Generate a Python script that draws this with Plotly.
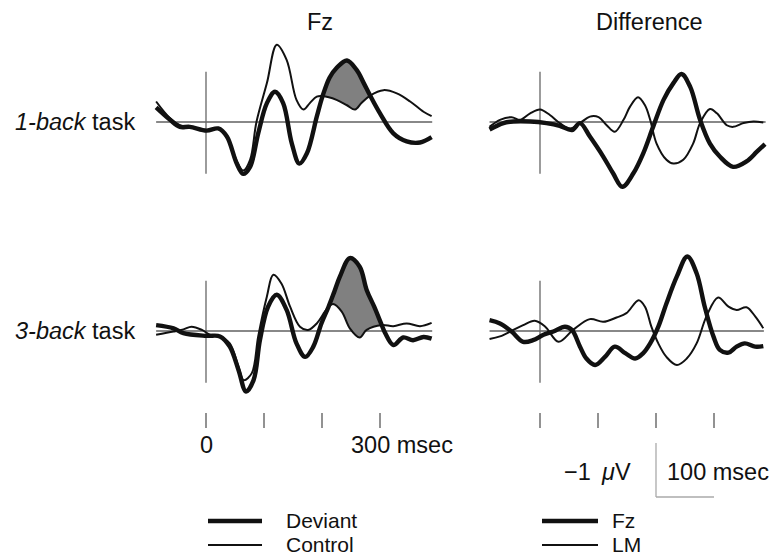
import plotly.graph_objects as go

W, H = 779, 559

# ---------------- data (time in ms, amplitude in µV; negative plotted up) ----------------
tl_dev_t = [-86, -62, -45, -28, 1, 21, 36, 53, 64, 76, 90, 105, 119, 133, 148, 161, 174, 191, 201, 213, 225, 243, 260, 272, 283, 300, 323, 346, 369, 389]
tl_dev_v = [-0.27, -0.04, 0.09, 0.09, 0.16, 0.12, 0.27, 0.77, 0.96, 0.83, 0.21, -0.35, -0.56, -0.35, 0.40, 0.77, 0.58, -0.10, -0.48, -0.82, -1.00, -1.14, -0.96, -0.72, -0.49, -0.16, 0.21, 0.36, 0.38, 0.28]
tl_con_t = [-86, -62, -45, -28, 1, 21, 36, 53, 64, 76, 87, 105, 122, 139, 156, 168, 179, 191, 201, 225, 243, 257, 268, 283, 306, 329, 352, 375, 389]
tl_con_v = [-0.38, -0.07, 0.06, 0.10, 0.15, 0.12, 0.28, 0.72, 0.90, 0.70, 0.0, -0.72, -1.43, -1.15, -0.41, -0.23, -0.35, -0.47, -0.48, -0.41, -0.31, -0.23, -0.35, -0.49, -0.59, -0.53, -0.38, -0.19, -0.11]

tr_fz_t = [-87, -63, -46, -17, 11, 34, 55, 69, 86, 109, 126, 142, 161, 178, 195, 213, 230, 244, 259, 276, 293, 310, 333, 356, 374, 388]
tr_fz_v = [0.14, 0.02, -0.01, -0.01, 0.02, 0.07, 0.15, 0.02, 0.27, 0.64, 0.95, 1.20, 0.95, 0.58, 0.09, -0.41, -0.72, -0.89, -0.65, -0.04, 0.40, 0.64, 0.83, 0.73, 0.55, 0.41]
tr_lm_t = [-87, -69, -49, -34, -17, 0, 17, 34, 52, 69, 86, 101, 115, 129, 144, 155, 169, 181, 190, 201, 218, 230, 247, 264, 276, 293, 305, 322, 333, 351, 368, 385]
tr_lm_v = [0.09, -0.04, -0.09, -0.04, -0.16, -0.23, -0.13, 0.02, 0.12, 0.02, -0.10, -0.09, 0.06, 0.18, -0.04, -0.28, -0.46, -0.31, -0.04, 0.40, 0.70, 0.77, 0.70, 0.40, 0.02, -0.24, -0.16, 0.06, 0.09, 0.02, -0.01, 0.01]

bl_dev_t = [-86, -56, -39, 1, 24, 41, 56, 69, 82, 93, 107, 122, 139, 156, 171, 185, 199, 211, 221, 231, 248, 265, 277, 290, 303, 309, 323, 340, 357, 375, 389]
bl_dev_v = [-0.11, -0.05, 0.04, 0.09, 0.10, 0.29, 0.72, 1.12, 0.91, 0.17, -0.45, -0.67, -0.39, 0.23, 0.48, 0.29, -0.14, -0.44, -0.72, -1.01, -1.35, -1.19, -0.76, -0.45, -0.11, 0.04, 0.26, 0.12, 0.17, 0.11, 0.14]
bl_con_t = [-86, -56, -39, -25, -7, 7, 24, 41, 56, 65, 79, 90, 105, 116, 130, 145, 162, 176, 191, 205, 211, 219, 234, 248, 265, 277, 303, 323, 346, 369, 389]
bl_con_v = [0.07, 0.01, -0.03, -0.08, -0.02, 0.07, 0.10, 0.23, 0.66, 0.91, 0.78, 0.10, -0.64, -1.04, -0.88, -0.45, -0.08, -0.02, -0.14, -0.36, -0.44, -0.50, -0.36, -0.05, 0.12, -0.02, -0.11, -0.09, -0.14, -0.09, -0.15]

br_fz_t = [-87, -69, -49, -29, -12, 6, 23, 43, 55, 69, 80, 95, 112, 129, 147, 164, 178, 190, 204, 218, 236, 254, 270, 284, 299, 310, 325, 339, 353, 371, 385]
br_fz_v = [-0.20, -0.14, 0.01, 0.20, 0.17, 0.07, 0.01, -0.08, -0.02, 0.29, 0.51, 0.63, 0.48, 0.29, 0.41, 0.51, 0.41, 0.23, -0.08, -0.51, -1.01, -1.38, -1.07, -0.45, 0.10, 0.35, 0.40, 0.29, 0.23, 0.29, 0.28]
br_lm_t = [-87, -69, -46, -29, -9, 9, 32, 57, 86, 109, 132, 149, 170, 181, 192, 204, 218, 236, 253, 270, 287, 307, 325, 339, 356, 371, 385]
br_lm_v = [0.15, 0.10, -0.02, -0.11, -0.19, -0.08, 0.20, -0.02, -0.22, -0.17, -0.25, -0.33, -0.57, -0.45, -0.08, 0.23, 0.48, 0.63, 0.51, 0.23, -0.27, -0.62, -0.45, -0.39, -0.44, -0.27, -0.05]

# shaded windows (ms) where deviant exceeds control
fill_tl = (201, 283)
fill_bl = (211, 303)

col_titles = ["Fz", "Difference"]
row_labels = ["<i>1-back</i> task", "<i>3-back</i> task"]
tick_times = [0, 100, 200, 300]
legend_left = ["Deviant", "Control"]
legend_right = ["Fz", "LM"]

FONT = "Liberation Sans, Arial, Helvetica, sans-serif"
BLACK = "#111111"
THICK, THIN = 4.4, 2.0


def px_x(p):
    return p / W


def px_y(p):
    return 1 - p / H


fig = go.Figure()


def add_fill(t_dev, v_dev, t_con, v_con, win, xa, ya):
    ct = [t for t in t_con if win[0] <= t <= win[1]]
    cv = [v for t, v in zip(t_con, v_con) if win[0] <= t <= win[1]]
    dt = [t for t in t_dev if win[0] <= t <= win[1]]
    dv = [v for t, v in zip(t_dev, v_dev) if win[0] <= t <= win[1]]
    fig.add_trace(go.Scatter(x=ct, y=cv, mode="lines", line=dict(width=0, shape="spline"),
                             xaxis=xa, yaxis=ya, showlegend=False, hoverinfo="skip"))
    fig.add_trace(go.Scatter(x=dt, y=dv, mode="lines", line=dict(width=0, shape="spline"),
                             fill="tonexty", fillcolor="#808080",
                             xaxis=xa, yaxis=ya, showlegend=False, hoverinfo="skip"))


def add_line(t, v, w, xa, ya, name):
    fig.add_trace(go.Scatter(x=t, y=v, mode="lines", name=name,
                             line=dict(color=BLACK, width=w, shape="spline", smoothing=1.0),
                             xaxis=xa, yaxis=ya, showlegend=False))


add_fill(tl_dev_t, tl_dev_v, tl_con_t, tl_con_v, fill_tl, "x", "y")
add_fill(bl_dev_t, bl_dev_v, bl_con_t, bl_con_v, fill_bl, "x3", "y3")

add_line(tl_con_t, tl_con_v, THIN, "x", "y", "Control")
add_line(tl_dev_t, tl_dev_v, THICK, "x", "y", "Deviant")
add_line(tr_lm_t, tr_lm_v, THIN, "x2", "y2", "LM")
add_line(tr_fz_t, tr_fz_v, THICK, "x2", "y2", "Fz")
add_line(bl_con_t, bl_con_v, THIN, "x3", "y3", "Control")
add_line(bl_dev_t, bl_dev_v, THICK, "x3", "y3", "Deviant")
add_line(br_lm_t, br_lm_v, THIN, "x4", "y4", "LM")
add_line(br_fz_t, br_fz_v, THICK, "x4", "y4", "Fz")

# axes: 100 ms = 58 px; 1 µV = 54 px
MS = 0.58
UV = 54.0
left_zero, right_zero = 206, 540
top_base, bot_base = 122, 331
L_dom = (140, 440)
R_dom = (480, 779)
T_dom = (40, 200)
B_dom = (250, 410)


def xr(dom, zero):
    return [(dom[0] - zero) / MS, (dom[1] - zero) / MS]


def yr(dom, base):
    return [(dom[1] - base) / UV, (dom[0] - base) / UV]


hidden = dict(visible=False, showgrid=False, zeroline=False, fixedrange=True)
lay = dict(
    xaxis=dict(domain=[px_x(L_dom[0]), px_x(L_dom[1])], range=xr(L_dom, left_zero), anchor="y", **hidden),
    yaxis=dict(domain=[px_y(T_dom[1]), px_y(T_dom[0])], range=yr(T_dom, top_base), anchor="x", **hidden),
    xaxis2=dict(domain=[px_x(R_dom[0]), px_x(R_dom[1])], range=xr(R_dom, right_zero), anchor="y2", **hidden),
    yaxis2=dict(domain=[px_y(T_dom[1]), px_y(T_dom[0])], range=yr(T_dom, top_base), anchor="x2", **hidden),
    xaxis3=dict(domain=[px_x(L_dom[0]), px_x(L_dom[1])], range=xr(L_dom, left_zero), anchor="y3", **hidden),
    yaxis3=dict(domain=[px_y(B_dom[1]), px_y(B_dom[0])], range=yr(B_dom, bot_base), anchor="x3", **hidden),
    xaxis4=dict(domain=[px_x(R_dom[0]), px_x(R_dom[1])], range=xr(R_dom, right_zero), anchor="y4", **hidden),
    yaxis4=dict(domain=[px_y(B_dom[1]), px_y(B_dom[0])], range=yr(B_dom, bot_base), anchor="x4", **hidden),
)

shapes = []
panels = [("x", "y", tl_dev_t), ("x2", "y2", tr_fz_t), ("x3", "y3", bl_dev_t), ("x4", "y4", br_fz_t)]
for xa, ya, tt in panels:
    shapes.append(dict(type="line", xref=xa, yref=ya, x0=tt[0], x1=tt[-1] + 1, y0=0, y1=0,
                       line=dict(color="#888888", width=1.8), layer="below"))
    shapes.append(dict(type="line", xref=xa, yref=ya, x0=0, x1=0, y0=-0.93, y1=0.96,
                       line=dict(color="#666666", width=1.3), layer="below"))

# time tick marks under each column
for xa in ["x3", "x4"]:
    for t in tick_times:
        shapes.append(dict(type="line", xref=xa, yref="paper", x0=t, x1=t, y0=px_y(428), y1=px_y(413),
                           line=dict(color="#777777", width=1.6)))

# calibration bar (right column)
shapes.append(dict(type="line", xref="x4", yref="paper", x0=200, x1=200, y0=px_y(443), y1=px_y(497),
                   line=dict(color="#aaaaaa", width=1.3)))
shapes.append(dict(type="line", xref="x4", yref="paper", x0=200, x1=300, y0=px_y(497), y1=px_y(497),
                   line=dict(color="#aaaaaa", width=1.3)))

# legend rows
LEG_Y = [520, 544]
for x0, x1 in [(208, 262), (542, 598)]:
    shapes.append(dict(type="line", xref="paper", yref="paper", x0=px_x(x0), x1=px_x(x1),
                       y0=px_y(LEG_Y[0] + 1), y1=px_y(LEG_Y[0] + 1), line=dict(color=BLACK, width=THICK)))
    shapes.append(dict(type="line", xref="paper", yref="paper", x0=px_x(x0), x1=px_x(x1),
                       y0=px_y(LEG_Y[1] + 1), y1=px_y(LEG_Y[1] + 1), line=dict(color=BLACK, width=THIN)))

FS = 23.5
LFS = 21


def ann(text, x, y, xanchor="center", size=FS):
    return dict(text=text, x=px_x(x), y=px_y(y), xref="paper", yref="paper", showarrow=False,
                xanchor=xanchor, yanchor="middle", borderpad=0,
                font=dict(family=FONT, size=size, color=BLACK))


annotations = [
    ann(col_titles[0], 320, 22),
    ann(col_titles[1], 649, 22),
    ann(row_labels[0], 136, 122, "right"),
    ann(row_labels[1], 136, 331, "right"),
    ann("0", 207, 445),
    ann("300 msec", 350, 445, "left"),
    ann("\u22121", 592, 472, "right"),
    ann("<i>\u03bc</i>V", 600, 472, "left"),
    ann("100 msec", 666, 472, "left"),
]
for i in range(2):
    annotations.append(ann(legend_left[i], 285, LEG_Y[i], "left", LFS))
    annotations.append(ann(legend_right[i], 611, LEG_Y[i], "left", LFS))

fig.update_layout(width=W, height=H, margin=dict(l=0, r=0, t=0, b=0),
                  paper_bgcolor="white", plot_bgcolor="white", showlegend=False,
                  shapes=shapes, annotations=annotations, **lay)

fig.write_html("out.html")
